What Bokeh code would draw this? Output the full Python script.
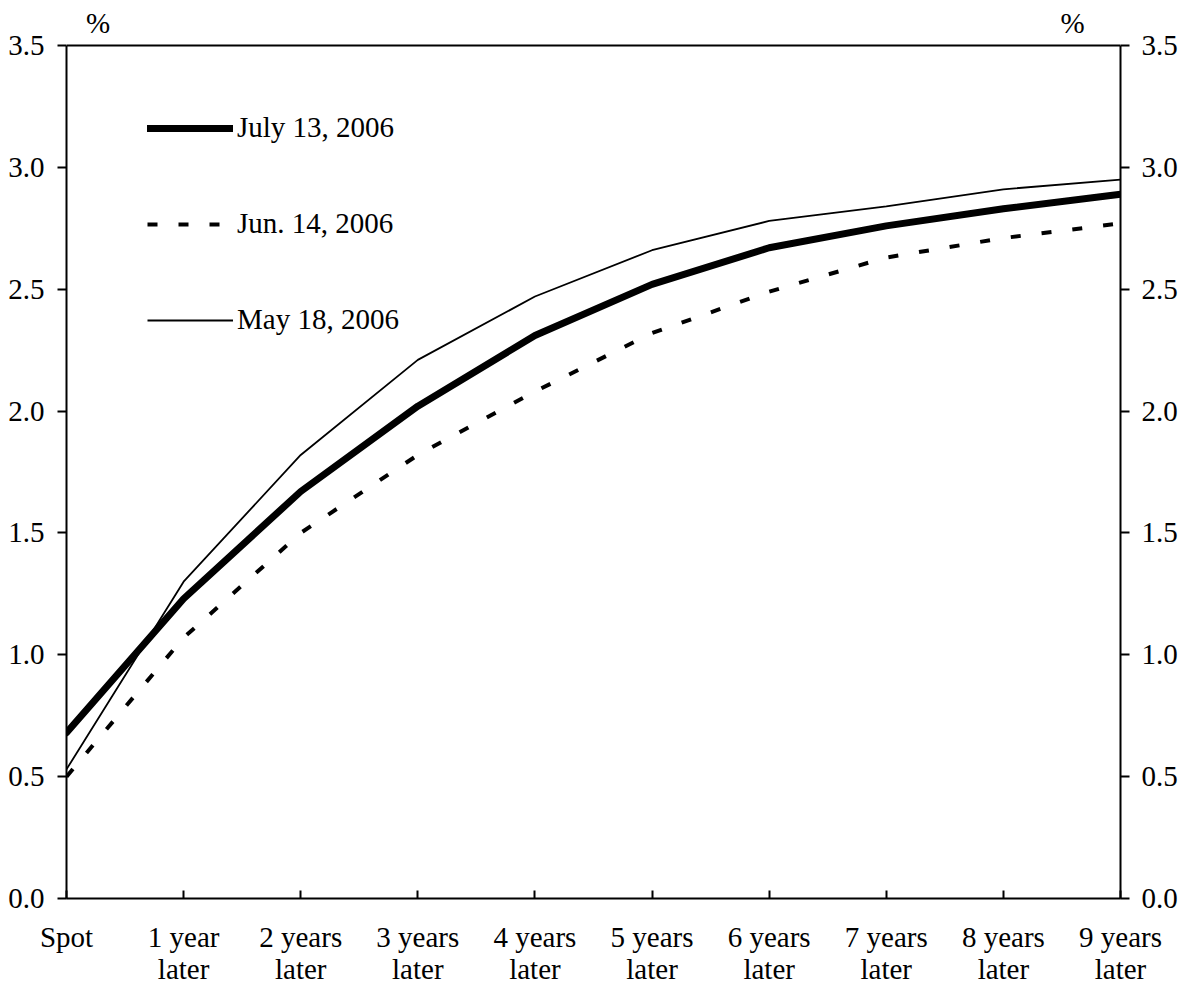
from bokeh.plotting import figure
from bokeh.models import Range1d, LinearAxis, Legend, LegendItem, FixedTicker
from bokeh.core.properties import value
from bokeh.embed import file_html
from bokeh.resources import INLINE

# Forward rate curves by horizon
horizons = ["Spot", "1 year\nlater", "2 years\nlater", "3 years\nlater", "4 years\nlater",
            "5 years\nlater", "6 years\nlater", "7 years\nlater", "8 years\nlater", "9 years\nlater"]
july_13 = [0.68, 1.23, 1.67, 2.02, 2.31, 2.52, 2.67, 2.76, 2.83, 2.89]
jun_14 = [0.50, 1.07, 1.50, 1.82, 2.08, 2.32, 2.49, 2.63, 2.71, 2.77]
may_18 = [0.53, 1.30, 1.82, 2.21, 2.47, 2.66, 2.78, 2.84, 2.91, 2.95]
y_ticks = [0.0, 0.5, 1.0, 1.5, 2.0, 2.5, 3.0, 3.5]
unit_label = "%"

FONT = "Liberation Serif"
FS = "29px"

xs = list(range(len(horizons)))
y_max = y_ticks[-1]
# headroom above the top of the scale holds the "%" unit labels
y_top = y_max * 898 / 853

p = figure(width=1184, height=988, output_backend="svg", toolbar_location=None,
           x_range=Range1d(xs[0], xs[-1]), y_range=Range1d(0, y_top),
           min_border_left=66, min_border_right=64, min_border_top=0, min_border_bottom=90)
p.grid.visible = False
p.outline_line_color = None
p.background_fill_color = "white"
p.border_fill_color = "white"

# bottom axis: ticks pointing into the plot, two-line labels
xa = p.xaxis[0]
xa.ticker = FixedTicker(ticks=xs)
xa.major_label_overrides = {i: lab for i, lab in enumerate(horizons)}
xa.major_tick_in = 8
xa.major_tick_out = 0
xa.minor_tick_line_color = None
xa.axis_line_width = 2
xa.major_tick_line_width = 2
xa.major_label_standoff = 22
xa.major_label_text_font = FONT
xa.major_label_text_font_size = FS
xa.major_label_text_color = "black"
xa.major_label_text_line_height = 1.0

def style_y(ax, standoff):
    ax.ticker = FixedTicker(ticks=y_ticks)
    ax.bounds = (0, y_max)
    ax.major_label_overrides = {t: f"{t:.1f}" for t in y_ticks}
    ax.major_tick_in = 0
    ax.major_tick_out = 9
    ax.minor_tick_line_color = None
    ax.axis_line_width = 2
    ax.major_tick_line_width = 2
    ax.major_label_standoff = standoff
    ax.major_label_text_font = FONT
    ax.major_label_text_font_size = FS
    ax.major_label_text_color = "black"

style_y(p.yaxis[0], 13)
right = LinearAxis()
style_y(right, 12)
p.add_layout(right, "right")

# top border of the chart box
p.line([xs[0], xs[-1]], [y_max, y_max], line_color="black", line_width=2)

r_july = p.line(xs, july_13, line_color="black", line_width=7, line_join="round", line_cap="round")
r_jun = p.line(xs, jun_14, line_color="black", line_width=4, line_dash="10 21", line_cap="butt")
r_may = p.line(xs, may_18, line_color="black", line_width=1.8)

legend = Legend(items=[LegendItem(label="July 13, 2006", renderers=[r_july]),
                       LegendItem(label="Jun. 14, 2006", renderers=[r_jun]),
                       LegendItem(label="May 18, 2006", renderers=[r_may])],
                location=(71, 552), orientation="vertical",
                glyph_width=86, glyph_height=28, label_height=28, label_standoff=4,
                spacing=63, padding=10, margin=0,
                border_line_alpha=0, background_fill_alpha=0,
                label_text_font=FONT, label_text_font_size=FS, label_text_color="black")
p.add_layout(legend)

# unit labels above each vertical axis
p.text(x=[0.27, 8.59], y=[3.594, 3.594], text=[unit_label, unit_label],
       text_font=value(FONT), text_font_size=FS, text_align="center",
       text_baseline="middle", text_color="black")

open("out.html", "w").write(file_html(p, INLINE))
